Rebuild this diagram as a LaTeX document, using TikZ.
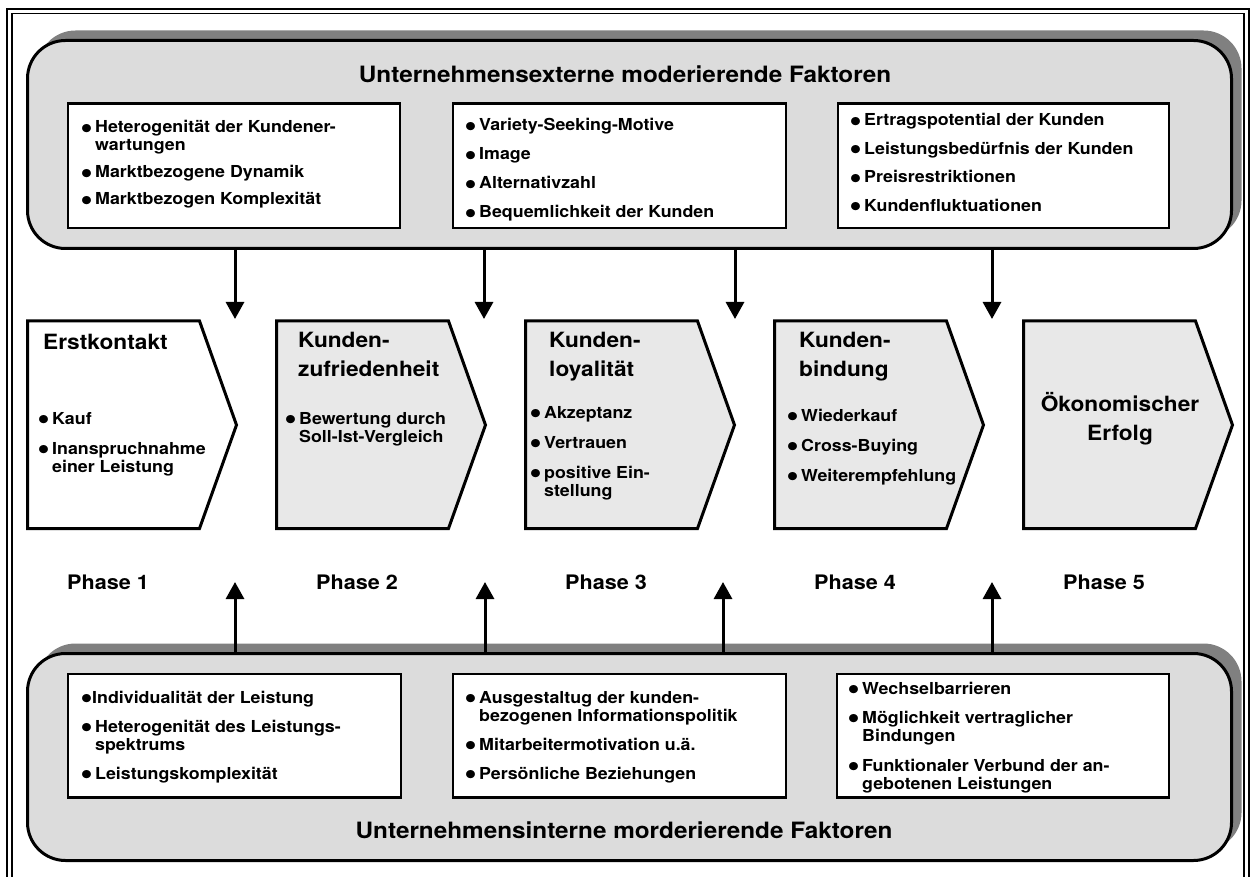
\documentclass[tikz,border=0pt]{standalone}
\usepackage{fontspec}
\setmainfont[FakeStretch=1.08]{TeX Gyre Heros}
\usetikzlibrary{arrows.meta,shadows}

\definecolor{panel}{HTML}{DCDCDC}
\definecolor{phasefill}{HTML}{E8E8E8}
\definecolor{shade}{HTML}{808080}

% bullet with fixed width, and the matching indent for continuation lines
\newcommand\bdot{\makebox[7pt][c]{\raisebox{-5.3pt}{\scalebox{2}{\textbullet}}}}
\newcommand\bu{\makebox[12pt][l]{\bdot}}
\newcommand\bi{\hspace*{12pt}}
% lines set top-aligned, so the node's base is the first baseline
\newcommand\lines[1]{\begin{tabular}[t]{@{}l@{}}#1\end{tabular}}
\newcommand\clines[1]{\begin{tabular}[t]{@{}c@{}}#1\end{tabular}}
\newcommand\itemfont{\fontsize{16.5}{18}\selectfont\bfseries}
\newcommand\headfont{\fontsize{21}{29}\selectfont\bfseries}

\tikzset{
  panelbox/.style={draw, line width=3pt, fill=panel, rounded corners=38pt, inner sep=0pt,
    drop shadow={shadow xshift=10pt, shadow yshift=10pt, fill=shade, opacity=1}},
  listbox/.style={draw, line width=2.5pt, fill=white, inner sep=0pt},
  listtext/.style={anchor=base west, inner sep=0pt, font=\itemfont},
  phasebox/.style={draw, line width=3pt, line join=miter},
  headtext/.style={anchor=base west, inner sep=0pt, font=\headfont},
  phaselabel/.style={anchor=base, inner sep=0pt, font=\fontsize{20}{24}\selectfont\bfseries},
  paneltitle/.style={anchor=base, inner sep=0pt, font=\fontsize{22.5}{27}\selectfont\bfseries},
  flow/.style={line width=3pt, -{Triangle[length=17pt,width=18pt]}}
}

\begin{document}
\begin{tikzpicture}[x=1pt,y=-1pt]
\useasboundingbox (0,0) rectangle (1256,877);

% double frame (open at the bottom edge)
\draw[line width=1.4pt] (7,880) -- (7,9) -- (1249,9) -- (1249,880);
\draw[line width=1.4pt] (12,880) -- (12,13.5) -- (1244,13.5) -- (1244,880);

% external factors panel
\node[panelbox, minimum width=1204pt, minimum height=208pt] (ext) at (629.5,144.5) {};
\node[paneltitle] (extTitle) at (625,83) {Unternehmensexterne moderierende Faktoren};

\node[listbox, minimum width=332pt, minimum height=124.5pt] (e1) at (234,165.75) {};
\node[listbox, minimum width=333pt, minimum height=124.5pt] (e2) at (619.5,165.75) {};
\node[listbox, minimum width=331pt, minimum height=124.5pt] (e3) at (1003.5,165.75) {};

\node[listtext] (e1t) at (83,133) {\lines{\bu Heterogenität der Kundener-\\\bi wartungen\\[9pt]\bu Marktbezogene Dynamik\\[9pt]\bu Marktbezogen Komplexität}};
\node[listtext] (e2t) at (467,131) {\lines{\bu Variety-Seeking-Motive\\[11pt]\bu Image\\[11pt]\bu Alternativzahl\\[11pt]\bu Bequemlichkeit der Kunden}};
\node[listtext] (e3t) at (852,126) {\lines{\bu Ertragspotential der Kunden\\[10.5pt]\bu Leistungsbedürfnis der Kunden\\[10.5pt]\bu Preisrestriktionen\\[10.5pt]\bu Kundenfluktuationen}};

% internal factors panel
\node[panelbox, minimum width=1204pt, minimum height=207pt] (int) at (629.5,757) {};
\node[paneltitle] (intTitle) at (624,838) {Unternehmensinterne morderierende Faktoren};

\node[listbox, minimum width=333pt, minimum height=123.5pt] (i1) at (234.5,735.75) {};
\node[listbox, minimum width=333pt, minimum height=123.5pt] (i2) at (619.5,735.75) {};
\node[listbox, minimum width=332pt, minimum height=123.5pt] (i3) at (1003,735.75) {};

\node[listtext] (i1t) at (83,703) {\lines{\bdot\hspace{2pt}Individualität der Leistung\\[11pt]\bu Heterogenität des Leistungs-\\\bi spektrums\\[11pt]\bu Leistungskomplexität}};
\node[listtext] (i2t) at (467,703) {\lines{\bu Ausgestaltug der kunden-\\\bi bezogenen Informationspolitik\\[11pt]\bu Mitarbeitermotivation u.ä.\\[11pt]\bu Persönliche Beziehungen}};
\node[listtext] (i3t) at (850,694) {\lines{\bu Wechselbarrieren\\[11.5pt]\bu Möglichkeit vertraglicher\\\bi Bindungen\\[11.5pt]\bu Funktionaler Verbund der an-\\\bi gebotenen Leistungen}};

% phase arrows (chevrons)
\draw[phasebox, fill=white]     (27.5,321)  -- ++(172,0) -- ++(37,104) -- ++(-37,103.5) -- ++(-172,0) -- cycle;
\draw[phasebox, fill=phasefill] (276.5,321) -- ++(172,0) -- ++(37,104) -- ++(-37,103.5) -- ++(-172,0) -- cycle;
\draw[phasebox, fill=phasefill] (525.5,321) -- ++(172,0) -- ++(37,104) -- ++(-37,103.5) -- ++(-172,0) -- cycle;
\draw[phasebox, fill=phasefill] (774.5,321) -- ++(172,0) -- ++(37,104) -- ++(-37,103.5) -- ++(-172,0) -- cycle;
\draw[phasebox, fill=phasefill] (1023.5,321) -- ++(172,0) -- ++(37,104) -- ++(-37,103.5) -- ++(-172,0) -- cycle;

% phase headings
\node[headtext] (p1h) at (43,349.5) {Erstkontakt};
\node[headtext] (p2h) at (298,348) {\lines{Kunden-\\zufriedenheit}};
\node[headtext] (p3h) at (549,348) {\lines{Kunden-\\loyalität}};
\node[headtext] (p4h) at (799,348) {\lines{Kunden-\\bindung}};
\node[anchor=base, inner sep=0pt, font=\headfont] (p5h) at (1120,411) {\clines{Ökonomischer\\Erfolg}};

% phase contents
\node[listtext] (p1t) at (40,424) {\lines{\bu Kauf\\[12pt]\bu Inanspruchnahme\\\bi einer Leistung}};
\node[listtext] (p2t) at (287,424) {\lines{\bu Bewertung durch\\\bi Soll-Ist-Vergleich}};
\node[listtext] (p3t) at (532,418) {\lines{\bu Akzeptanz\\[12pt]\bu Vertrauen\\[12pt]\bu positive Ein-\\\bi stellung}};
\node[listtext] (p4t) at (789,421) {\lines{\bu Wiederkauf\\[12pt]\bu Cross-Buying\\[12pt]\bu Weiterempfehlung}};

% phase labels
\node[phaselabel] (ph1) at (108,589) {Phase 1};
\node[phaselabel] (ph2) at (357,589) {Phase 2};
\node[phaselabel] (ph3) at (606,589) {Phase 3};
\node[phaselabel] (ph4) at (855,589) {Phase 4};
\node[phaselabel] (ph5) at (1104,589) {Phase 5};

% influence arrows
\coordinate (d1) at (235,319);
\coordinate (d2) at (484,319);
\coordinate (d3) at (735,319);
\coordinate (d4) at (992,319);
\coordinate (u1) at (235,582);
\coordinate (u2) at (485,582);
\coordinate (u3) at (723,582);
\coordinate (u4) at (992,582);
\foreach \c in {d1,d2,d3,d4} \draw[flow] (ext.south -| \c) -- (\c);
\foreach \c in {u1,u2,u3,u4} \draw[flow] (int.north -| \c) -- (\c);
\end{tikzpicture}
\end{document}
